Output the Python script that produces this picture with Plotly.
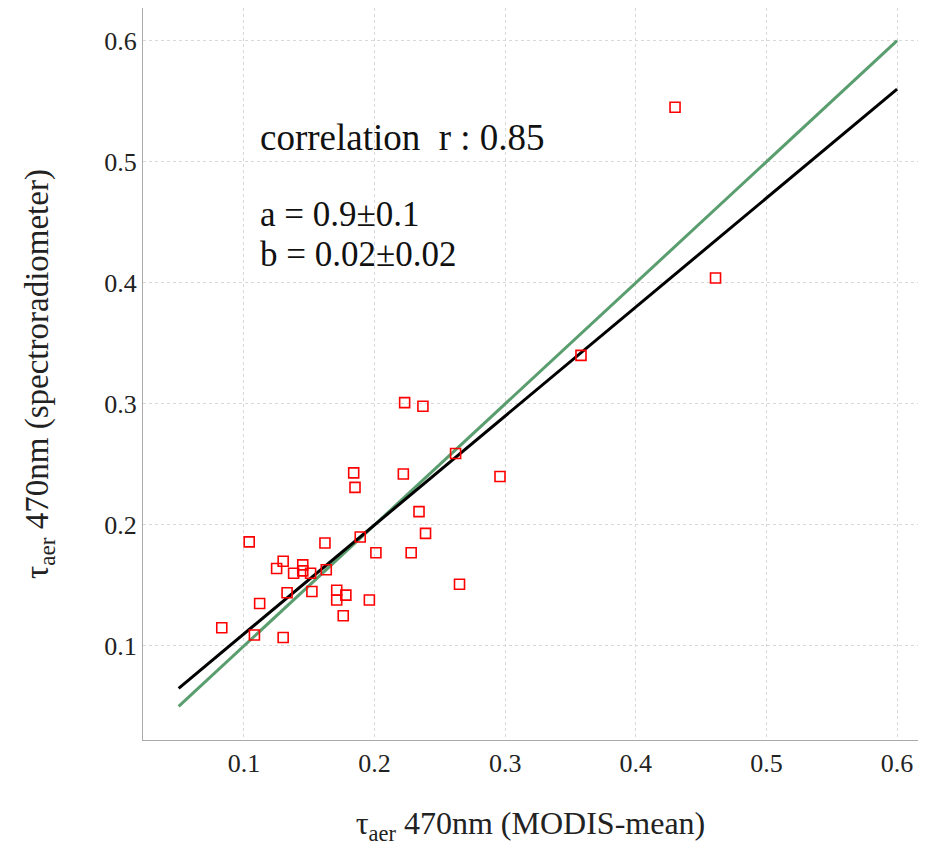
import plotly.graph_objects as go

# data: MODIS-mean tau (x) vs spectroradiometer tau (y) at 470nm
modis = [0.430, 0.461, 0.358, 0.262, 0.223, 0.237, 0.184, 0.185, 0.222, 0.296,
         0.234, 0.189, 0.239, 0.201, 0.228, 0.162, 0.163, 0.265, 0.104, 0.125,
         0.130, 0.145, 0.145, 0.138, 0.151, 0.152, 0.133, 0.171, 0.171, 0.178,
         0.176, 0.196, 0.112, 0.083, 0.108, 0.130]
spectro = [0.545, 0.404, 0.340, 0.259, 0.301, 0.298, 0.243, 0.231, 0.242, 0.240,
           0.211, 0.190, 0.193, 0.177, 0.177, 0.185, 0.163, 0.151, 0.186, 0.164,
           0.170, 0.167, 0.162, 0.160, 0.160, 0.145, 0.144, 0.146, 0.138, 0.142,
           0.125, 0.138, 0.135, 0.115, 0.109, 0.107]

fit_a = 0.9
fit_b = 0.02
line_x = [0.05, 0.6]
fit_y = [fit_a * v + fit_b for v in line_x]
one_to_one_y = list(line_x)

tick_vals = [0.1, 0.2, 0.3, 0.4, 0.5, 0.6]
tick_text = ["0.1", "0.2", "0.3", "0.4", "0.5", "0.6"]

serif = "Liberation Serif"

fig = go.Figure()
fig.add_trace(go.Scatter(x=line_x, y=one_to_one_y, mode="lines",
                         line=dict(color="#5a9e6f", width=3), showlegend=False))
fig.add_trace(go.Scatter(x=line_x, y=fit_y, mode="lines",
                         line=dict(color="black", width=3), showlegend=False))
fig.add_trace(go.Scatter(x=modis, y=spectro, mode="markers",
                         marker=dict(symbol="square-open", size=10, color="red",
                                     line=dict(width=1.6, color="red")),
                         showlegend=False))

fig.add_annotation(x=0.1108, y=0.52, xref="x", yref="y", xanchor="left", yanchor="middle",
                   text="correlation  r : 0.85", showarrow=False,
                   font=dict(family=serif, size=37, color="#111"))
fig.add_annotation(x=0.1108, y=0.4562, xref="x", yref="y", xanchor="left", yanchor="middle",
                   text="a = 0.9±0.1", showarrow=False,
                   font=dict(family=serif, size=35, color="#111"))
fig.add_annotation(x=0.1108, y=0.4231, xref="x", yref="y", xanchor="left", yanchor="middle",
                   text="b = 0.02±0.02", showarrow=False,
                   font=dict(family=serif, size=35, color="#111"))

axis_common = dict(
    showgrid=True, gridcolor="#d8d8d8", griddash="dot", gridwidth=1,
    zeroline=False, showline=True, linecolor="#aaaaaa", linewidth=1, mirror=True,
    ticks="", tickfont=dict(family=serif, size=26, color="#222"),
    tickvals=tick_vals, ticktext=tick_text,
)

fig.update_layout(
    width=926, height=848,
    margin=dict(l=135, r=16, t=0, b=116, autoexpand=False),
    paper_bgcolor="white", plot_bgcolor="white",
    xaxis=dict(range=[0.0227, 0.616], **axis_common,
               title=dict(text="τ<sub>aer</sub> 470nm (MODIS-mean)",
                          font=dict(family=serif, size=32, color="#222"), standoff=34)),
    yaxis=dict(range=[0.0223, 0.627], **axis_common,
               title=dict(text="τ<sub>aer</sub> 470nm (spectroradiometer)",
                          font=dict(family=serif, size=33, color="#222"), standoff=45)),
)

fig.write_html("out.html")
